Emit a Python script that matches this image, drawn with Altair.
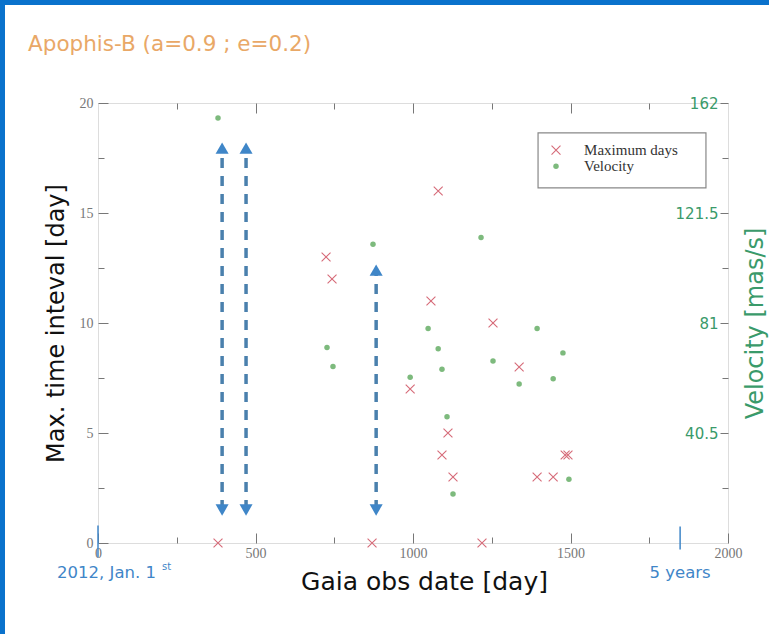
import altair as alt
import pandas as pd

# ---------------- data ----------------
# Maximum days (red crosses)
max_day = [381, 870, 1219, 724, 743, 1080, 1057, 1254, 991, 1337, 1111, 1092, 1127, 1394, 1445, 1483, 1492]
max_val = [0, 0, 0, 13, 12, 16, 11, 10, 7, 8, 5, 4, 3, 3, 3, 4, 4]

# Velocity [mas/s] (green dots)
vel_day = [381, 873, 1216, 727, 746, 1048, 1080, 1092, 991, 1254, 1394, 1476, 1445, 1337, 1108, 1127, 1495]
vel_val = [156.5, 110, 112.5, 72, 65, 79, 71.5, 64, 61, 67, 79, 70, 60.5, 58.5, 46.5, 18, 23.5]

# dashed double arrows (day, bottom head, top head)
arrow_day = [394, 470, 883]
arrow_low = [1.5, 1.5, 1.5]
arrow_high = [17.95, 17.95, 12.4]

# axis tick values
x_major = [0, 500, 1000, 1500, 2000]
x_minor = [250, 750, 1250, 1750]
y_major = [0, 5, 10, 15, 20]
y_minor = [2.5, 7.5, 12.5, 17.5]
v_major = [40.5, 81, 121.5, 162]
v_minor = [20.25, 60.75, 101.25, 141.75]

legend_labels = ["Maximum days", "Velocity"]
chart_title = "Apophis-B (a=0.9 ; e=0.2)"

# ---------------- styles ----------------
SERIF = "Liberation Serif"
COMIC = "DejaVu Sans"
RED = "#d66a78"
GREEN = "#7dba7d"
GREEN_T = "#3a9a6a"
BLUE = "#3f86c8"
STEM = "#4a80ad"
ORANGE = "#e9a867"
TICK = "#777777"
XPATH = "M-1,-1L1,1M-1,1L1,-1"

XS = alt.Scale(domain=[0, 2000], nice=False, zero=False)
YS = alt.Scale(domain=[0, 20], nice=False, zero=False)
VS = alt.Scale(domain=[0, 162], nice=False, zero=False)

df_max = pd.DataFrame({"day": max_day, "val": max_val})
df_vel = pd.DataFrame({"day": vel_day, "vel": vel_val})
df_arr = pd.DataFrame({"day": arrow_day, "low": arrow_low, "high": arrow_high})


def tick_axis(orient, values, size):
    return alt.Axis(orient=orient, values=values, offset=-size, tickSize=size, tickColor=TICK,
                    tickWidth=1, labels=False, domain=False, grid=False, title=None)


# red crosses + main bottom / left axes (labels, titles, major ticks)
red = alt.Chart(df_max).mark_point(shape=XPATH, filled=False, size=80, strokeWidth=1.1,
                                   color=RED, opacity=1).encode(
    x=alt.X("day:Q", scale=XS, axis=alt.Axis(
        orient="bottom", values=x_major, offset=-10, tickSize=10, tickColor=TICK, domain=False,
        grid=False, labelFont=SERIF, labelFontSize=14, labelColor="#777", labelPadding=3,
        labelExpr="datum.value", labelFlush=False, title="Gaia obs date [day]", titleFont=COMIC,
        titleFontSize=25, titleFontWeight="normal", titleColor="#111", titlePadding=9,
        titleX=326)),
    y=alt.Y("val:Q", scale=YS, axis=alt.Axis(
        orient="left", values=y_major, offset=-10, tickSize=10, tickColor=TICK, domain=False,
        grid=False, labelFont=SERIF, labelFontSize=14, labelColor="#777", labelPadding=5,
        labelFlush=False, title="Max. time inteval [day]", titleFont=COMIC, titleFontSize=24,
        titleFontWeight="normal", titleColor="#111", titlePadding=11)),
)

# green velocity points + right axis + top major ticks
green = alt.Chart(df_vel).mark_point(shape="circle", filled=True, size=30, color=GREEN,
                                     opacity=1).encode(
    x=alt.X("day:Q", scale=XS, axis=tick_axis("top", x_major[1:-1], 10)),
    y=alt.Y("vel:Q", scale=VS, axis=alt.Axis(
        orient="right", values=v_major, offset=-8, tickSize=8, tickColor=TICK, domain=False,
        grid=False, labelAlign="right", labelPadding=-10, labelFont=COMIC, labelFontSize=15,
        labelColor=GREEN_T, labelExpr="datum.value", labelFlush=False, title="Velocity [mas/s]",
        titleAngle=270, titleBaseline="top", titleFont=COMIC, titleFontSize=24,
        titleFontWeight="normal", titleColor=GREEN_T, titlePadding=15)),
)

# invisible layer carrying top / right minor ticks
minor_tr = alt.Chart(df_vel).mark_point(opacity=0).encode(
    x=alt.X("day:Q", scale=XS, axis=tick_axis("top", x_minor, 6)),
    y=alt.Y("vel:Q", scale=VS, axis=tick_axis("right", v_minor, 6)),
)

# dashed arrow stems, also carrying bottom / left minor ticks
stems = alt.Chart(df_arr).mark_rule(strokeDash=[10, 8], strokeWidth=3.5, color=STEM).encode(
    x=alt.X("day:Q", scale=XS, axis=tick_axis("bottom", x_minor, 6)),
    y=alt.Y("low:Q", scale=YS, axis=tick_axis("left", y_minor, 6)),
    y2="high:Q",
)
head_up = alt.Chart(df_arr).mark_point(shape="triangle-up", filled=True, size=170, color=BLUE,
                                       opacity=1).encode(
    x=alt.X("day:Q", scale=XS, axis=None),
    y=alt.Y("high:Q", scale=YS, axis=None),
)
head_down = alt.Chart(df_arr).mark_point(shape="triangle-down", filled=True, size=170, color=BLUE,
                                         opacity=1).encode(
    x=alt.X("day:Q", scale=XS, axis=None),
    y=alt.Y("low:Q", scale=YS, axis=None),
)

# legend box
leg_box = alt.Chart(pd.DataFrame({"x": [1397], "x2": [1930], "y": [18.64], "y2": [16.14]})).mark_rect(
    fill="white", stroke="#888", strokeWidth=1.2).encode(
    x=alt.X("x:Q", scale=XS, axis=None), x2="x2:Q",
    y=alt.Y("y:Q", scale=YS, axis=None), y2="y2:Q")
df_leg = pd.DataFrame({"label": legend_labels, "sx": [1454, 1454], "tx": [1543, 1543],
                       "y": [17.86, 17.12]})
leg_red = alt.Chart(df_leg.iloc[:1]).mark_point(shape=XPATH, filled=False, size=80, strokeWidth=1.1,
                                                color=RED, opacity=1).encode(
    x=alt.X("sx:Q", scale=XS, axis=None), y=alt.Y("y:Q", scale=YS, axis=None))
leg_green = alt.Chart(df_leg.iloc[1:]).mark_point(shape="circle", filled=True, size=30, color=GREEN,
                                                  opacity=1).encode(
    x=alt.X("sx:Q", scale=XS, axis=None), y=alt.Y("y:Q", scale=YS, axis=None))
leg_text = alt.Chart(df_leg).mark_text(align="left", baseline="middle", font=SERIF, fontSize=15,
                                       color="#333").encode(
    x=alt.X("tx:Q", scale=XS, axis=None), y=alt.Y("y:Q", scale=YS, axis=None), text="label:N")

# blue annotations under the x axis
df_mark = pd.DataFrame({"day": [0, 1848], "lo": [-0.65, -0.3], "hi": [0.8, 0.75]})
blue_ticks = alt.Chart(df_mark).mark_rule(color=BLUE, strokeWidth=1.5).encode(
    x=alt.X("day:Q", scale=XS, axis=None), y=alt.Y("lo:Q", scale=YS, axis=None), y2="hi:Q")
ann_left = alt.Chart(pd.DataFrame({"day": [-130], "y": [-1.38], "t": ["2012, Jan. 1"]})).mark_text(
    align="left", baseline="middle", font=COMIC, fontSize=16.5, color=BLUE).encode(
    x=alt.X("day:Q", scale=XS, axis=None), y=alt.Y("y:Q", scale=YS, axis=None), text="t:N")
ann_right = alt.Chart(pd.DataFrame({"day": [1848], "y": [-1.38], "t": ["5 years"]})).mark_text(
    align="center", baseline="middle", font=COMIC, fontSize=16.5, color=BLUE).encode(
    x=alt.X("day:Q", scale=XS, axis=None), y=alt.Y("y:Q", scale=YS, axis=None), text="t:N")
ann_sup = alt.Chart(pd.DataFrame({"day": [203], "y": [-1.08], "t": ["st"]})).mark_text(
    align="left", baseline="middle", font=COMIC, fontSize=10, color=BLUE).encode(
    x=alt.X("day:Q", scale=XS, axis=None), y=alt.Y("y:Q", scale=YS, axis=None), text="t:N")

# chart title (as a text mark, top-left of the slide)
title = alt.Chart(pd.DataFrame({"day": [-222], "y": [22.64], "t": [chart_title]})).mark_text(
    align="left", baseline="middle", font=COMIC, fontSize=21.5, color=ORANGE).encode(
    x=alt.X("day:Q", scale=XS, axis=None), y=alt.Y("y:Q", scale=YS, axis=None), text="t:N")

# slide frame (blue border top and left)
border_top = alt.Chart(pd.DataFrame({"a": [0]})).mark_rule(color="#0a72cc", strokeWidth=5).encode(
    x=alt.value(-98), x2=alt.value(671), y=alt.value(-100.5))
border_left = alt.Chart(pd.DataFrame({"a": [0]})).mark_rule(color="#0a72cc", strokeWidth=5).encode(
    x=alt.value(-95.5), y=alt.value(-103), y2=alt.value(531))

chart = alt.layer(
    red, green, minor_tr, stems, head_up, head_down, leg_box, leg_red, leg_green, leg_text,
    blue_ticks, ann_left, ann_right, ann_sup, title, border_top, border_left,
).resolve_scale(y="independent").resolve_axis(x="independent", y="independent").properties(
    width=630, height=440,
    padding={"left": 98, "top": 103, "right": 41, "bottom": 91},
    autosize=alt.AutoSizeParams(type="none"),
).configure_view(stroke="#888", strokeWidth=1.3).configure(background="white")

chart.save("out.html", embed_options={"renderer": "svg", "actions": False})
